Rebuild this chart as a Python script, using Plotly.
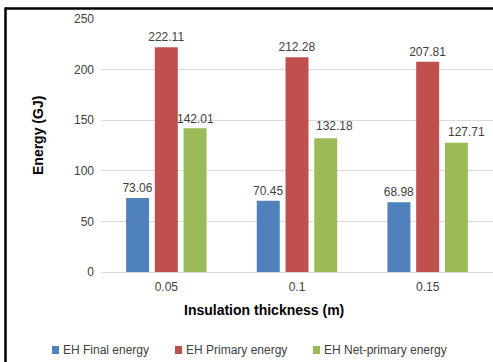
import plotly.graph_objects as go

categories = ["0.05", "0.1", "0.15"]
final_energy = [73.06, 70.45, 68.98]
primary_energy = [222.11, 212.28, 207.81]
net_primary_energy = [142.01, 132.18, 127.71]
y_ticks = [0, 50, 100, 150, 200, 250]
series_names = ["EH Final energy", "EH Primary energy", "EH Net-primary energy"]
series_colors = ["#4F81BD", "#C0504D", "#9BBB59"]

W, H = 493, 362
L, R, T, B = 101, 0, 19, 90
pw, ph = W - L - R, H - T - B

def px(x):
    return (x - L) / pw

def py(y):
    return (H - B - y) / ph

FONT = "Liberation Sans, Arial"
fig = go.Figure()
all_vals = [final_energy, primary_energy, net_primary_energy]
for i, (name, vals, col) in enumerate(zip(series_names, all_vals, series_colors)):
    fig.add_trace(go.Bar(
        x=categories, y=vals, name=name,
        marker=dict(color=col, line=dict(width=0)),
        text=[f"{v:.2f}" for v in vals] if i < 2 else None,
        textposition="outside", constraintext="none",
        textfont=dict(family=FONT, size=12, color="#404040"),
        cliponaxis=False, showlegend=False,
    ))

annotations = []
# green labels (slightly displaced in the reference)
slot = pw / 3 * (1 - 0.34) / 3
green_shift = [0, 9, 10]
green_up = [0, 3, 2]
for idx, (v, s, u) in enumerate(zip(net_primary_energy, green_shift, green_up)):
    annotations.append(dict(
        x=idx, y=v, xref="x", yref="y", text=f"{v:.2f}", showarrow=False,
        xshift=slot + s, yshift=9 + u, yanchor="middle",
        font=dict(family=FONT, size=12, color="#404040"),
    ))

# axis titles (positioned as in the reference)
annotations.append(dict(x=px(264), y=py(310), xref="paper", yref="paper",
                        text="<b>Insulation thickness (m)</b>", showarrow=False,
                        xanchor="center", yanchor="middle",
                        font=dict(family=FONT, size=14, color="#000000")))
annotations.append(dict(x=px(38), y=py(135), xref="paper", yref="paper",
                        text="<b>Energy (GJ)</b>", showarrow=False, textangle=-90,
                        xanchor="center", yanchor="middle",
                        font=dict(family=FONT, size=14, color="#000000")))

# manual legend
leg_marker_x = [52, 175, 313]
shapes = [
    dict(type="line", xref="paper", yref="paper", x0=px(5), x1=px(W + 5), y0=py(8.5), y1=py(8.5),
         line=dict(color="black", width=2.5)),
    dict(type="line", xref="paper", yref="paper", x0=px(5.5), x1=px(5.5), y0=py(7.5), y1=py(H + 5),
         line=dict(color="black", width=2.5)),
]
for mx, name, col in zip(leg_marker_x, series_names, series_colors):
    shapes.append(dict(type="rect", xref="paper", yref="paper", x0=px(mx), x1=px(mx + 7),
                       y0=py(346), y1=py(354), line=dict(width=0), fillcolor=col))
    annotations.append(dict(x=px(mx + 9), y=py(350), xref="paper", yref="paper", text=name,
                            showarrow=False, xanchor="left", yanchor="middle",
                            font=dict(family=FONT, size=12, color="#404040")))

fig.update_layout(
    width=W, height=H,
    margin=dict(l=L, r=R, t=T, b=B, autoexpand=False),
    paper_bgcolor="white", plot_bgcolor="white",
    barmode="group", bargap=0.34, bargroupgap=0.2,
    font=dict(family=FONT, size=12, color="#404040"),
    showlegend=False,
    xaxis=dict(
        type="category", showgrid=False, showline=True, linecolor="#D9D9D9", linewidth=1,
        ticks="", tickfont=dict(size=12, color="#404040"), ticklabelstandoff=4,
    ),
    yaxis=dict(
        range=[0, 250], tickvals=y_ticks, showgrid=True, gridcolor="#D9D9D9", gridwidth=1,
        zeroline=False, showline=False, ticks="", tickfont=dict(size=12, color="#404040"),
        ticklabelstandoff=6,
    ),
    shapes=shapes,
    annotations=annotations,
)

fig.write_html("out.html", config={"displayModeBar": False},
               post_script="document.body.style.margin='0';document.body.style.overflow='hidden';")
